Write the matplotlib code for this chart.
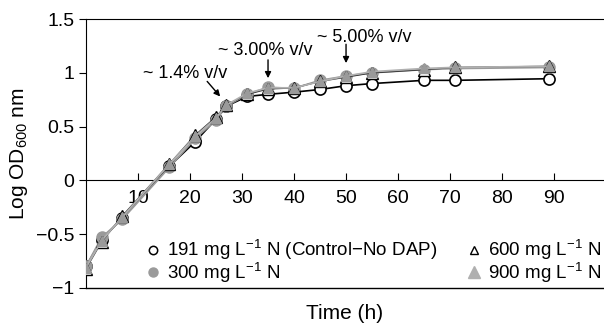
import matplotlib
matplotlib.use('Agg')
import matplotlib.pyplot as plt
from matplotlib.lines import Line2D

plt.rcParams['font.family'] = ['Liberation Sans', 'DejaVu Sans']
plt.rcParams['mathtext.fontset'] = 'custom'
plt.rcParams['mathtext.rm'] = 'Liberation Sans'
plt.rcParams['mathtext.it'] = 'Liberation Sans'

# sampling times (h)
time_h = [0, 3, 7, 16, 21, 25, 27, 31, 35, 40, 45, 50, 55, 65, 71, 89]
# log OD600 per nitrogen level
od_191 = [-0.80, -0.55, -0.35, 0.13, 0.36, 0.57, 0.69, 0.78, 0.80, 0.82, 0.845, 0.88, 0.90, 0.93, 0.93, 0.945]
od_300 = [-0.80, -0.53, -0.36, 0.12, 0.39, 0.56, 0.69, 0.80, 0.865, 0.855, 0.93, 0.97, 1.00, 1.03, 1.04, 1.05]
od_600 = [-0.82, -0.57, -0.33, 0.15, 0.42, 0.59, 0.70, 0.80, 0.85, 0.86, 0.92, 0.96, 1.00, 1.03, 1.05, 1.06]
od_900 = [-0.81, -0.56, -0.34, 0.15, 0.41, 0.58, 0.70, 0.81, 0.86, 0.86, 0.92, 0.97, 1.01, 1.04, 1.05, 1.06]

labels = ['191 mg L$^{-1}$ N (Control\u2212No DAP)', '300 mg L$^{-1}$ N',
          '600 mg L$^{-1}$ N', '900 mg L$^{-1}$ N']

# ethanol annotations: text, arrow tail (x, y), arrow tip (x, y), text position
notes = ['~ 1.4% v/v', '~ 3.00% v/v', '~ 5.00% v/v']
note_tail = [(23.3, 0.92), (35, 1.12), (50, 1.265)]
note_tip = [(25.8, 0.78), (35, 0.95), (50, 1.09)]
note_text = [(11.0, 0.95), (25.4, 1.165), (44.4, 1.285)]

gray = '#9a9a9a'

fig = plt.figure(figsize=(6.04, 3.23), dpi=100)
ax = fig.add_axes([86 / 604, 35 / 323, 1 - 86 / 604, 269 / 323])

ax.plot(time_h, od_191, color='black', lw=1.2, marker='o', ms=8,
        mfc='white', mec='black', mew=1.2, zorder=3)
ax.plot(time_h, od_300, color=gray, lw=1.3, marker='o', ms=8,
        mfc=gray, mec=gray, zorder=4)
ax.plot(time_h, od_600, color='#333333', lw=1.0, marker='^', ms=8,
        mfc='white', mec='black', mew=1.0, zorder=5)
ax.plot(time_h, od_900, color='#b0b0b0', lw=1.3, marker='^', ms=7.5,
        mfc=gray, mec=gray, zorder=6)

for txt, tail, tip, pos in zip(notes, note_tail, note_tip, note_text):
    ax.annotate('', xy=tip, xytext=tail,
                arrowprops=dict(arrowstyle='-|>', color='black', lw=1.0,
                                mutation_scale=9, shrinkA=0, shrinkB=0))
    ax.text(pos[0], pos[1], txt, fontsize=13, ha='left', va='baseline')

ax.set_xlim(0, 99.6)
ax.set_ylim(-1, 1.5)
ax.set_xticks([10, 20, 30, 40, 50, 60, 70, 80, 90])
ax.set_yticks([-1, -0.5, 0, 0.5, 1, 1.5])
ax.set_yticklabels(['\u22121', '\u22120.5', '0', '0.5', '1', '1.5'])

ax.spines['bottom'].set_position(('data', 0))
ax.spines['right'].set_visible(False)
ax.axhline(-1, color='black', lw=1.0, clip_on=False)
ax.tick_params(axis='x', direction='in', length=5, labelsize=14, pad=7)
ax.tick_params(axis='y', direction='out', length=5, labelsize=14)

ax.set_ylabel('Log OD$_{600}$ nm', fontsize=15, labelpad=4)
ax.xaxis.set_label_coords(0.5, -0.06)
ax.set_xlabel('Time (h)', fontsize=15, va='top')

handles = [
    Line2D([], [], ls='none', marker='o', ms=6, mfc='white', mec='black', mew=1.1),
    Line2D([], [], ls='none', marker='o', ms=6.5, mfc=gray, mec=gray),
    Line2D([], [], ls='none', marker='^', ms=5.5, mfc='white', mec='black', mew=1.0),
    Line2D([], [], ls='none', marker='^', ms=8, mfc='#b0b0b0', mec='#b0b0b0'),
]
ax.legend(handles, labels, ncol=2, frameon=False, loc='lower left',
          bbox_to_anchor=(0.082, -0.05), fontsize=13.5, handlelength=0.8,
          handletextpad=0.35, columnspacing=1.55, labelspacing=-0.1)

fig.savefig('out.png', dpi=100)
